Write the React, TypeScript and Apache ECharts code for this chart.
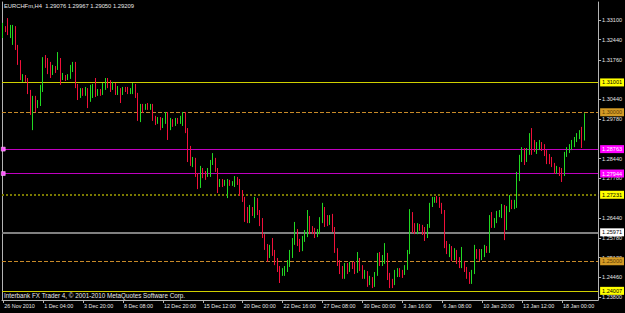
import React, { useEffect, useRef } from "react";
import * as echarts from "echarts";

const symbol = "EURCHFm";
const timeframe = "H4";

// x-axis time labels (one every 16 H4 bars)
const timeLabels = [
  "26 Nov 2010", "1 Dec 04:00", "3 Dec 20:00", "8 Dec 08:00", "12 Dec 20:00",
  "15 Dec 12:00", "20 Dec 00:00", "22 Dec 16:00", "27 Dec 08:00", "30 Dec 00:00",
  "3 Jan 16:00", "6 Jan 08:00", "10 Jan 20:00", "13 Jan 12:00", "18 Jan 00:00",
];
const barsPerLabel = 16;

// right price scale tick labels
const priceTicks = [
  1.331, 1.3244, 1.3176, 1.3044, 1.2978, 1.2844, 1.2778, 1.2644, 1.2578, 1.2512, 1.2446, 1.238,
];
const priceMin = 1.237;
const priceMax = 1.337;

// horizontal price levels drawn on the chart
const levelValues = [1.31001, 1.3, 1.29209, 1.28763, 1.27944, 1.27231, 1.25971, 1.25, 1.24007];
const anchoredLevels = [1.28763, 1.27944];

// H4 candles: [open, close, low, high]
const ohlc: number[][] = [
  [1.3253, 1.3286, 1.3249, 1.3300], [1.3283, 1.3276, 1.3269, 1.3289], [1.3303, 1.3269, 1.3259, 1.3316],
  [1.3269, 1.3283, 1.3249, 1.3293], [1.3242, 1.3286, 1.3226, 1.3293], [1.3286, 1.3216, 1.3209, 1.3289],
  [1.3216, 1.3169, 1.3159, 1.3226], [1.3169, 1.3115, 1.3108, 1.3175], [1.3115, 1.3122, 1.3102, 1.3128],
  [1.3118, 1.3108, 1.3102, 1.3125], [1.3108, 1.3068, 1.3061, 1.3115], [1.3068, 1.3001, 1.2991, 1.3075],
  [1.2984, 1.3048, 1.2940, 1.3055], [1.3048, 1.3014, 1.3001, 1.3055], [1.3021, 1.3035, 1.3014, 1.3041],
  [1.3028, 1.3081, 1.3021, 1.3092], [1.3081, 1.3175, 1.3068, 1.3185], [1.3175, 1.3169, 1.3149, 1.3192],
  [1.3175, 1.3142, 1.3128, 1.3182], [1.3155, 1.3125, 1.3115, 1.3169], [1.3135, 1.3149, 1.3125, 1.3159],
  [1.3149, 1.3142, 1.3132, 1.3155], [1.3149, 1.3182, 1.3142, 1.3202], [1.3175, 1.3108, 1.3092, 1.3182],
  [1.3115, 1.3122, 1.3108, 1.3132], [1.3118, 1.3112, 1.3105, 1.3125], [1.3115, 1.3118, 1.3108, 1.3128],
  [1.3118, 1.3149, 1.3112, 1.3159], [1.3149, 1.3162, 1.3135, 1.3169], [1.3162, 1.3092, 1.3081, 1.3169],
  [1.3092, 1.3051, 1.3041, 1.3095], [1.3055, 1.3068, 1.3048, 1.3081], [1.3068, 1.3061, 1.3055, 1.3081],
  [1.3065, 1.3075, 1.3055, 1.3085], [1.3075, 1.3048, 1.3014, 1.3081], [1.3048, 1.3068, 1.3035, 1.3092],
  [1.3058, 1.3081, 1.3048, 1.3095], [1.3081, 1.3058, 1.3051, 1.3115], [1.3061, 1.3068, 1.3055, 1.3078],
  [1.3068, 1.3065, 1.3055, 1.3078], [1.3068, 1.3092, 1.3058, 1.3098], [1.3088, 1.3108, 1.3075, 1.3115],
  [1.3108, 1.3102, 1.3081, 1.3115], [1.3102, 1.3081, 1.3068, 1.3108], [1.3081, 1.3092, 1.3075, 1.3102],
  [1.3092, 1.3068, 1.3058, 1.3098], [1.3068, 1.3075, 1.3058, 1.3088], [1.3075, 1.3065, 1.3031, 1.3081],
  [1.3065, 1.3078, 1.3058, 1.3085], [1.3078, 1.3075, 1.3068, 1.3085], [1.3078, 1.3068, 1.3061, 1.3085],
  [1.3068, 1.3075, 1.3061, 1.3081], [1.3068, 1.3092, 1.3061, 1.3098], [1.3088, 1.3058, 1.3048, 1.3095],
  [1.3058, 1.2981, 1.2971, 1.3065], [1.2974, 1.3018, 1.2967, 1.3028], [1.3018, 1.3008, 1.2998, 1.3028],
  [1.3014, 1.3021, 1.3008, 1.3028], [1.3021, 1.3014, 1.3008, 1.3031], [1.3014, 1.3021, 1.3008, 1.3028],
  [1.3018, 1.2981, 1.2971, 1.3028], [1.2981, 1.2967, 1.2957, 1.2988], [1.2971, 1.2977, 1.2961, 1.2984],
  [1.2977, 1.2954, 1.2940, 1.2984], [1.2957, 1.2974, 1.2947, 1.2981], [1.2967, 1.2994, 1.2961, 1.3001],
  [1.2994, 1.2947, 1.2907, 1.3001], [1.2954, 1.2967, 1.2940, 1.2981], [1.2967, 1.2961, 1.2951, 1.2977],
  [1.2961, 1.2974, 1.2954, 1.2981], [1.2974, 1.2967, 1.2961, 1.2981], [1.2967, 1.2981, 1.2961, 1.2988],
  [1.2961, 1.2994, 1.2954, 1.3001], [1.2994, 1.2940, 1.2930, 1.3001], [1.2940, 1.2847, 1.2833, 1.2947],
  [1.2873, 1.2830, 1.2820, 1.2887], [1.2826, 1.2843, 1.2816, 1.2850], [1.2840, 1.2789, 1.2783, 1.2847],
  [1.2789, 1.2753, 1.2742, 1.2796], [1.2753, 1.2810, 1.2746, 1.2820], [1.2806, 1.2786, 1.2779, 1.2813],
  [1.2796, 1.2783, 1.2773, 1.2803], [1.2789, 1.2800, 1.2783, 1.2813], [1.2789, 1.2830, 1.2783, 1.2840],
  [1.2830, 1.2840, 1.2823, 1.2863], [1.2837, 1.2806, 1.2800, 1.2847], [1.2806, 1.2759, 1.2729, 1.2813],
  [1.2763, 1.2769, 1.2749, 1.2776], [1.2769, 1.2759, 1.2749, 1.2776], [1.2763, 1.2766, 1.2753, 1.2773],
  [1.2749, 1.2769, 1.2712, 1.2776], [1.2766, 1.2759, 1.2753, 1.2773], [1.2759, 1.2763, 1.2753, 1.2769],
  [1.2756, 1.2779, 1.2749, 1.2786], [1.2776, 1.2766, 1.2756, 1.2783], [1.2769, 1.2732, 1.2719, 1.2776],
  [1.2732, 1.2709, 1.2699, 1.2739], [1.2709, 1.2672, 1.2632, 1.2716], [1.2672, 1.2638, 1.2628, 1.2682],
  [1.2638, 1.2679, 1.2628, 1.2689], [1.2675, 1.2662, 1.2652, 1.2682], [1.2665, 1.2706, 1.2645, 1.2716],
  [1.2706, 1.2665, 1.2655, 1.2712], [1.2665, 1.2632, 1.2618, 1.2672], [1.2632, 1.2585, 1.2578, 1.2645],
  [1.2585, 1.2544, 1.2538, 1.2591], [1.2551, 1.2511, 1.2498, 1.2558], [1.2518, 1.2548, 1.2511, 1.2555],
  [1.2548, 1.2528, 1.2518, 1.2578], [1.2528, 1.2498, 1.2487, 1.2538], [1.2498, 1.2471, 1.2464, 1.2511],
  [1.2474, 1.2457, 1.2427, 1.2484], [1.2461, 1.2467, 1.2451, 1.2477], [1.2461, 1.2477, 1.2451, 1.2484],
  [1.2471, 1.2498, 1.2464, 1.2504], [1.2494, 1.2528, 1.2481, 1.2538], [1.2524, 1.2568, 1.2511, 1.2578],
  [1.2561, 1.2602, 1.2555, 1.2632], [1.2598, 1.2565, 1.2551, 1.2608], [1.2565, 1.2541, 1.2531, 1.2575],
  [1.2541, 1.2571, 1.2534, 1.2585], [1.2571, 1.2595, 1.2565, 1.2605], [1.2591, 1.2645, 1.2581, 1.2672],
  [1.2642, 1.2605, 1.2591, 1.2652], [1.2608, 1.2602, 1.2591, 1.2618], [1.2602, 1.2585, 1.2578, 1.2612],
  [1.2588, 1.2602, 1.2581, 1.2608], [1.2598, 1.2638, 1.2591, 1.2648], [1.2635, 1.2672, 1.2628, 1.2696],
  [1.2672, 1.2638, 1.2615, 1.2682], [1.2642, 1.2628, 1.2618, 1.2655], [1.2628, 1.2645, 1.2622, 1.2655],
  [1.2648, 1.2608, 1.2598, 1.2659], [1.2608, 1.2538, 1.2528, 1.2615], [1.2538, 1.2494, 1.2484, 1.2544],
  [1.2494, 1.2471, 1.2457, 1.2504], [1.2471, 1.2451, 1.2441, 1.2484], [1.2451, 1.2484, 1.2441, 1.2494],
  [1.2484, 1.2467, 1.2457, 1.2494], [1.2471, 1.2487, 1.2464, 1.2498], [1.2487, 1.2481, 1.2474, 1.2498],
  [1.2484, 1.2464, 1.2457, 1.2498], [1.2467, 1.2498, 1.2461, 1.2531], [1.2498, 1.2477, 1.2467, 1.2511],
  [1.2477, 1.2451, 1.2441, 1.2487], [1.2454, 1.2461, 1.2441, 1.2471], [1.2461, 1.2430, 1.2414, 1.2467],
  [1.2434, 1.2441, 1.2420, 1.2451], [1.2441, 1.2424, 1.2410, 1.2447], [1.2424, 1.2457, 1.2414, 1.2464],
  [1.2457, 1.2511, 1.2451, 1.2528], [1.2511, 1.2491, 1.2484, 1.2531], [1.2491, 1.2504, 1.2484, 1.2521],
  [1.2498, 1.2521, 1.2491, 1.2561], [1.2521, 1.2451, 1.2437, 1.2528], [1.2451, 1.2427, 1.2410, 1.2461],
  [1.2427, 1.2424, 1.2410, 1.2441], [1.2427, 1.2464, 1.2420, 1.2471], [1.2457, 1.2471, 1.2447, 1.2477],
  [1.2467, 1.2454, 1.2447, 1.2477], [1.2461, 1.2451, 1.2444, 1.2471], [1.2457, 1.2477, 1.2454, 1.2487],
  [1.2477, 1.2531, 1.2471, 1.2538], [1.2531, 1.2638, 1.2524, 1.2675], [1.2638, 1.2605, 1.2595, 1.2665],
  [1.2612, 1.2598, 1.2591, 1.2628], [1.2598, 1.2618, 1.2591, 1.2628], [1.2618, 1.2612, 1.2602, 1.2625],
  [1.2615, 1.2598, 1.2588, 1.2622], [1.2605, 1.2581, 1.2568, 1.2615], [1.2585, 1.2618, 1.2578, 1.2625],
  [1.2618, 1.2689, 1.2612, 1.2696], [1.2689, 1.2706, 1.2682, 1.2716], [1.2702, 1.2709, 1.2696, 1.2716],
  [1.2709, 1.2702, 1.2696, 1.2719], [1.2706, 1.2685, 1.2679, 1.2716], [1.2685, 1.2665, 1.2659, 1.2696],
  [1.2665, 1.2555, 1.2544, 1.2672], [1.2555, 1.2538, 1.2524, 1.2568], [1.2538, 1.2544, 1.2514, 1.2558],
  [1.2541, 1.2511, 1.2501, 1.2551], [1.2511, 1.2534, 1.2504, 1.2544], [1.2531, 1.2501, 1.2491, 1.2538],
  [1.2504, 1.2484, 1.2477, 1.2514], [1.2484, 1.2498, 1.2477, 1.2548], [1.2494, 1.2471, 1.2464, 1.2501],
  [1.2471, 1.2451, 1.2441, 1.2481], [1.2454, 1.2437, 1.2424, 1.2464], [1.2434, 1.2464, 1.2424, 1.2471],
  [1.2464, 1.2531, 1.2457, 1.2555], [1.2531, 1.2514, 1.2508, 1.2541], [1.2528, 1.2508, 1.2501, 1.2541],
  [1.2511, 1.2531, 1.2504, 1.2541], [1.2528, 1.2544, 1.2514, 1.2555], [1.2541, 1.2538, 1.2528, 1.2551],
  [1.2534, 1.2645, 1.2528, 1.2655], [1.2645, 1.2618, 1.2612, 1.2665], [1.2618, 1.2635, 1.2612, 1.2645],
  [1.2635, 1.2659, 1.2628, 1.2669], [1.2659, 1.2662, 1.2648, 1.2672], [1.2659, 1.2682, 1.2645, 1.2692],
  [1.2679, 1.2632, 1.2571, 1.2689], [1.2625, 1.2675, 1.2605, 1.2685], [1.2675, 1.2706, 1.2665, 1.2722],
  [1.2699, 1.2682, 1.2675, 1.2706], [1.2682, 1.2696, 1.2675, 1.2706], [1.2689, 1.2779, 1.2679, 1.2800],
  [1.2779, 1.2840, 1.2769, 1.2857], [1.2840, 1.2870, 1.2833, 1.2883], [1.2870, 1.2840, 1.2823, 1.2880],
  [1.2840, 1.2867, 1.2833, 1.2880], [1.2863, 1.2917, 1.2857, 1.2930], [1.2917, 1.2883, 1.2857, 1.2947],
  [1.2890, 1.2873, 1.2867, 1.2907], [1.2870, 1.2887, 1.2860, 1.2900], [1.2887, 1.2893, 1.2873, 1.2907],
  [1.2893, 1.2880, 1.2870, 1.2900], [1.2883, 1.2863, 1.2853, 1.2893], [1.2863, 1.2837, 1.2826, 1.2873],
  [1.2850, 1.2837, 1.2826, 1.2860], [1.2840, 1.2823, 1.2816, 1.2850], [1.2823, 1.2803, 1.2793, 1.2830],
  [1.2803, 1.2810, 1.2793, 1.2820], [1.2810, 1.2796, 1.2786, 1.2816], [1.2803, 1.2786, 1.2766, 1.2813],
  [1.2793, 1.2857, 1.2786, 1.2867], [1.2857, 1.2873, 1.2850, 1.2883], [1.2873, 1.2883, 1.2863, 1.2893],
  [1.2883, 1.2897, 1.2873, 1.2907], [1.2890, 1.2907, 1.2883, 1.2917], [1.2907, 1.2920, 1.2900, 1.2930],
  [1.2917, 1.2930, 1.2910, 1.2940], [1.2937, 1.2907, 1.2880, 1.2951], [1.29076, 1.29209, 1.2905, 1.29967],
];
const emptySlots = 5;

const FONT = '"Liberation Sans", Arial, sans-serif';

const levelStyles = [
  { color: "#d0d000", type: "solid", width: 1, bg: "#ffff00", fg: "#000000" },
  { color: "#c88a28", type: "dashed", width: 1, bg: "#d49b26", fg: "#5a3a00" },
  { color: "#000000", type: "solid", width: 0, bg: "#ffffff", fg: "#000000" },
  { color: "#c000c0", type: "solid", width: 1, bg: "#ff00ff", fg: "#ffffff" },
  { color: "#c000c0", type: "solid", width: 1, bg: "#ff00ff", fg: "#ffffff" },
  { color: "#7a7a00", type: "dotted", width: 2, bg: "#ffff00", fg: "#000000" },
  { color: "#808080", type: "solid", width: 2, bg: "#ffffff", fg: "#000000" },
  { color: "#c88a28", type: "dashed", width: 1, bg: "#d49b26", fg: "#5a3a00" },
  { color: "#d0d000", type: "solid", width: 1, bg: "#ffff00", fg: "#000000" },
];

export default function App() {
  const ref = useRef<HTMLDivElement>(null);
  useEffect(() => {
    if (!ref.current) return;
    const chart = echarts.init(ref.current, null, { renderer: "svg" });
    const nSlots = ohlc.length + emptySlots;
    const cats = Array.from({ length: nSlots }, (_, i) => String(i));
    const last = ohlc[ohlc.length - 1];
    const title = `${symbol},${timeframe}  ${last[0].toFixed(5)} ${last[3].toFixed(5)} ${last[2].toFixed(5)} ${last[1].toFixed(5)}`;
    const showLabel = (i: number) => i % barsPerLabel === 0 && i / barsPerLabel < timeLabels.length;
    const axisGray = "#b4b4b4";

    // one markLine series per level so each keeps its own colour
    const levelSeries = levelValues.map((v, i) => {
      const s = levelStyles[i];
      return {
        type: "line",
        data: [],
        silent: true,
        z: 3,
        markLine: {
          silent: true,
          symbol: ["none", "none"],
          precision: 5,
          lineStyle: { color: s.color, type: s.type, width: s.width, opacity: s.width > 0 ? 1 : 0 },
          label: {
            show: true,
            position: "end",
            distance: 2,
            formatter: () => v.toFixed(5),
            backgroundColor: s.bg,
            color: s.fg,
            fontSize: 5.5,
            fontFamily: FONT,
            padding: [1, 2, 1, 2],
          },
          data: [{ yAxis: v }],
        },
      };
    });

    chart.setOption({
      animation: false,
      backgroundColor: "#000000",
      grid: { left: 2, right: 26, top: 2, bottom: 13 },
      xAxis: {
        type: "category",
        data: cats,
        boundaryGap: true,
        axisLine: { show: true, lineStyle: { color: axisGray, width: 1 } },
        axisTick: {
          show: true,
          alignWithLabel: true,
          length: 3,
          interval: (i: number) => showLabel(i),
          lineStyle: { color: axisGray },
        },
        axisLabel: {
          interval: (i: number) => showLabel(i),
          formatter: (_v: string, i: number) => (showLabel(i) ? timeLabels[i / barsPerLabel] : ""),
          color: "#e6e6e6",
          fontSize: 5.4,
          fontFamily: FONT,
          align: "left",
          margin: 3,
          padding: [0, 0, 0, 1],
        },
        splitLine: { show: false },
      },
      yAxis: [
        {
          type: "value",
          position: "right",
          min: priceMin,
          max: priceMax,
          axisLine: { show: true, lineStyle: { color: axisGray, width: 1 } },
          axisTick: { show: true, length: 3, customValues: priceTicks, lineStyle: { color: axisGray } },
          axisLabel: {
            customValues: priceTicks,
            formatter: (v: number) => v.toFixed(5),
            color: "#e6e6e6",
            fontSize: 5.5,
            fontFamily: FONT,
            margin: 4,
          },
          splitLine: { show: false },
        },
        {
          type: "value",
          position: "left",
          min: priceMin,
          max: priceMax,
          axisLine: { show: true, lineStyle: { color: axisGray, width: 1 } },
          axisTick: { show: false },
          axisLabel: { show: false },
          splitLine: { show: false },
        },
      ],
      series: [
        ...levelSeries,
        {
          type: "candlestick",
          data: ohlc,
          barWidth: 1.2,
          z: 5,
          itemStyle: {
            color: "#22d822",
            color0: "#f0103a",
            borderColor: "#22d822",
            borderColor0: "#f0103a",
            borderWidth: 1,
          },
          markPoint: {
            silent: true,
            symbol: "rect",
            symbolSize: 4,
            itemStyle: { color: "#ff55ff", borderColor: "#ffccff", borderWidth: 0.5 },
            label: { show: false },
            data: anchoredLevels.map((v) => ({ coord: [0, v] })),
          },
        },
      ],
      graphic: [
        {
          type: "text",
          left: 4,
          top: 3,
          style: { text: title, fill: "#e8e8e8", fontSize: 5.8, fontFamily: FONT },
        },
        {
          type: "text",
          left: 4,
          top: 292,
          style: {
            text: "Interbank FX Trader 4, © 2001-2010 MetaQuotes Software Corp.",
            fill: "#e8e8e8",
            fontSize: 6.3,
            fontFamily: FONT,
          },
        },
      ],
    });
    return () => chart.dispose();
  }, []);
  return <div ref={ref} style={{ position: "fixed", left: 0, top: 0, width: 625, height: 313 }} />;
}
